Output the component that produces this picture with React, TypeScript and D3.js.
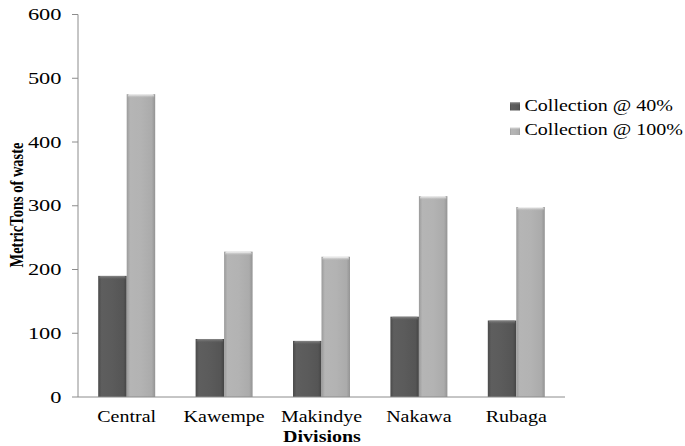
import React from "react";
import * as d3 from "d3";

const divisions = ["Central", "Kawempe", "Makindye", "Nakawa", "Rubaga"];
const collection40 = [190, 91, 88, 126, 120];
const collection100 = [475, 228, 220, 315, 298];
const seriesNames = ["Collection @ 40%", "Collection @ 100%"];
const yTicks = [0, 100, 200, 300, 400, 500, 600];

const W = 685;
const H = 446;
const left = 78;
const right = 565;
const top = 14.5;
const bottom = 397;
// text is drawn slightly wide, as in the exported figure
const SX = 1.25;

const serifCss = '"Liberation Serif", "Times New Roman", Tinos, Times, serif';

function WideText({ x, y, anchor = "start", size, bold = false, sx = SX, children }: any) {
  return (
    <g transform={`translate(${x},${y}) scale(${sx},1)`}>
      <text
        x={0}
        y={0}
        textAnchor={anchor}
        style={{ fontFamily: serifCss, fontSize: size, fontWeight: bold ? 700 : 400 }}
        fill="#000"
      >
        {children}
      </text>
    </g>
  );
}

export default function App() {
  const x = d3.scaleBand<string>().domain(divisions).range([left, right]).paddingInner(0.415).paddingOuter(0.2075);
  const y = d3.scaleLinear().domain([0, 600]).range([bottom, top]);
  const inner = d3.scaleBand<number>().domain([0, 1]).range([0, x.bandwidth()]);
  const series = [collection40, collection100];
  const fills = ["url(#gDark)", "url(#gLight)"];
  const tops = ["url(#gTopDark)", "url(#gTopLight)"];

  return (
    <svg width={W} height={H} style={{ position: "absolute", left: 0, top: 0, background: "#fff" }}>
      <defs>
        <linearGradient id="gDark" x1="0" x2="1" y1="0" y2="0">
          <stop offset="0" stopColor="#4a4a4a" />
          <stop offset="0.12" stopColor="#5e5e5e" />
          <stop offset="0.5" stopColor="#5b5b5b" />
          <stop offset="0.88" stopColor="#555" />
          <stop offset="1" stopColor="#444" />
        </linearGradient>
        <linearGradient id="gLight" x1="0" x2="1" y1="0" y2="0">
          <stop offset="0" stopColor="#9a9a9a" />
          <stop offset="0.12" stopColor="#b5b5b5" />
          <stop offset="0.5" stopColor="#b3b3b3" />
          <stop offset="0.88" stopColor="#ababab" />
          <stop offset="1" stopColor="#939393" />
        </linearGradient>
        <linearGradient id="gTopDark" x1="0" x2="0" y1="0" y2="1">
          <stop offset="0" stopColor="#8a8a8a" />
          <stop offset="1" stopColor="#5b5b5b" stopOpacity="0" />
        </linearGradient>
        <linearGradient id="gTopLight" x1="0" x2="0" y1="0" y2="1">
          <stop offset="0" stopColor="#ffffff" />
          <stop offset="1" stopColor="#b3b3b3" stopOpacity="0" />
        </linearGradient>
      </defs>

      {/* y axis */}
      <line x1={left} x2={left} y1={top} y2={bottom} stroke="#8c8c8c" strokeWidth={1} />
      {yTicks.map((t) => (
        <g key={t}>
          <line x1={left - 6} x2={left} y1={y(t)} y2={y(t)} stroke="#8c8c8c" />
          <WideText x={61.5} y={y(t) + 5.5} anchor="end" size={16} sx={1.4}>
            {t}
          </WideText>
        </g>
      ))}

      {/* bars */}
      {divisions.map((d, i) => (
        <g key={d}>
          {series.map((s, k) => {
            const bx = (x(d) ?? 0) + (inner(k) ?? 0);
            const bw = inner.bandwidth();
            const by = y(s[i]);
            return (
              <g key={k}>
                <rect x={bx} y={by} width={bw} height={bottom - by} fill={fills[k]} />
                <rect x={bx + 1} y={by} width={bw - 2} height={4} rx={1.5} fill={tops[k]} />
              </g>
            );
          })}
          <WideText x={(x(d) ?? 0) + x.bandwidth() / 2} y={421.5} anchor="middle" size={16}>
            {d}
          </WideText>
        </g>
      ))}

      {/* x axis */}
      <line x1={left} x2={right} y1={bottom} y2={bottom} stroke="#8c8c8c" strokeWidth={1} />

      <WideText x={322} y={442} anchor="middle" size={16} bold>
        Divisions
      </WideText>
      <g transform={`translate(22.5,205) scale(${SX},1) rotate(-90)`}>
        <text x={0} y={0} textAnchor="middle" style={{ fontFamily: serifCss, fontSize: 14.5, fontWeight: 700 }} fill="#000">
          MetricTons of waste
        </text>
      </g>

      {/* legend */}
      {seriesNames.map((n, k) => (
        <g key={n}>
          <rect x={510} y={102.5 + k * 24.5} width={10} height={8} fill={fills[k]} />
          <rect x={510} y={102.5 + k * 24.5} width={10} height={3} fill={tops[k]} />
          <WideText x={524.5} y={110.5 + k * 24.5} size={16}>
            {n}
          </WideText>
        </g>
      ))}
    </svg>
  );
}
